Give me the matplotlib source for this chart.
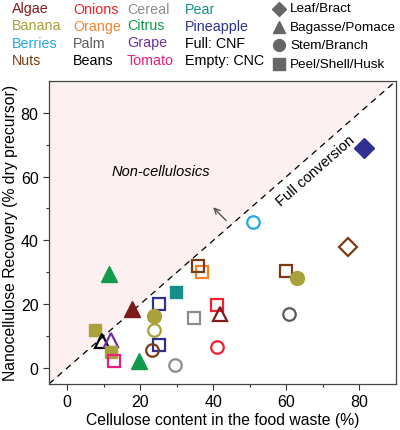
import matplotlib.pyplot as plt
import numpy as np

plt.rcParams['font.family'] = ['Liberation Sans', 'DejaVu Sans']

# food waste source, plant part, filled (CNF) or empty (CNC), cellulose %, recovery %
source = ['Pineapple', 'Berries', 'Nuts', 'Orange', 'Nuts', 'Nuts', 'Banana',
          'Citrus', 'Pear', 'Pineapple', 'Onions', 'Algae', 'Algae', 'Palm',
          'Banana', 'Cereal', 'Banana', 'Banana', 'Beans', 'Grape', 'Banana',
          'Pineapple', 'Nuts', 'Onions', 'Tomato', 'Citrus', 'Cereal']
part = ['Leaf', 'Stem', 'Leaf', 'Peel', 'Peel', 'Peel', 'Stem',
        'Bagasse', 'Peel', 'Peel', 'Peel', 'Bagasse', 'Bagasse', 'Stem',
        'Stem', 'Peel', 'Stem', 'Peel', 'Bagasse', 'Bagasse', 'Peel',
        'Peel', 'Stem', 'Stem', 'Peel', 'Bagasse', 'Stem']
filled = [True, False, False, False, False, False, True,
          True, True, False, False, True, False, False,
          True, False, False, True, False, False, True,
          False, False, False, False, True, False]
cellulose = [81.2, 50.9, 76.8, 36.9, 35.9, 59.9, 62.8,
             11.4, 29.9, 25.0, 41.0, 17.8, 41.9, 60.8,
             23.8, 34.8, 23.8, 7.5, 9.6, 11.9, 12.1,
             25.0, 23.3, 41.0, 12.9, 19.7, 29.5]
recovery = [69.1, 45.8, 38.0, 30.0, 32.1, 30.4, 28.1,
            29.5, 23.9, 20.0, 19.8, 18.5, 16.8, 16.9,
            16.2, 15.6, 12.0, 12.0, 8.3, 8.9, 5.0,
            7.1, 5.5, 6.6, 2.1, 2.1, 0.8]

colors = {'Algae': '#7f1a1c', 'Banana': '#a9a13a', 'Berries': '#22a8e6',
          'Nuts': '#7a3c14', 'Onions': '#f2222c', 'Orange': '#f7822a',
          'Palm': '#5a5a5a', 'Beans': '#000000', 'Cereal': '#8c8c8c',
          'Citrus': '#109a4a', 'Grape': '#7030a0', 'Tomato': '#ec1c80',
          'Pear': '#168f8b', 'Pineapple': '#2e3192'}
markers = {'Leaf': 'D', 'Bagasse': '^', 'Stem': 'o', 'Peel': 's'}
sizes = {'Leaf': 10, 'Bagasse': 11, 'Stem': 10, 'Peel': 9}
key_sizes = {'Leaf': 7, 'Bagasse': 9, 'Stem': 8.5, 'Peel': 8}
part_labels = {'Leaf': 'Leaf/Bract', 'Bagasse': 'Bagasse/Pomace',
               'Stem': 'Stem/Branch', 'Peel': 'Peel/Shell/Husk'}

fig = plt.figure(figsize=(4, 4.31), dpi=100)
ax = fig.add_axes([0.1225, 0.107, 0.8675, 0.703])

lim = [-5, 90]
ax.fill_between(lim, lim, [90, 90], color='#fdf0f1', zorder=0, lw=0)
ax.plot(lim, lim, color='black', ls=(0, (5, 4)), lw=0.9, zorder=1)

for s, p, f, x, y in zip(source, part, filled, cellulose, recovery):
    c = colors[s]
    if f:
        ax.plot(x, y, marker=markers[p], ms=sizes[p], color=c, mec=c, ls='none', zorder=3)
    else:
        ax.plot(x, y, marker=markers[p], ms=sizes[p] - 1, mfc='none', mec=c, mew=1.6,
                ls='none', zorder=3)

ax.text(25.6, 61.7, 'Non-cellulosics', style='italic', fontsize=10.5, ha='center', va='center')
ax.text(68.0, 62.0, 'Full conversion', fontsize=10.5, ha='center', va='center', rotation=41.3)
ax.annotate('', xy=(39.4, 51.0), xytext=(44.0, 45.6),
            arrowprops=dict(arrowstyle='->', color='#555555', lw=1.0))

ax.set_xlim(lim)
ax.set_ylim(lim)
ax.set_xticks([0, 20, 40, 60, 80])
ax.set_yticks([0, 20, 40, 60, 80])
ax.set_xticks(np.arange(0, 90, 10), minor=True)
ax.set_yticks(np.arange(0, 90, 10), minor=True)
ax.tick_params(labelsize=11.5, length=4, width=0.8, color='#333333')
ax.tick_params(which='minor', length=2.5, width=0.8, color='#333333')
for sp in ax.spines.values():
    sp.set_color('#444444')
    sp.set_linewidth(0.9)
ax.set_xlabel('Cellulose content in the food waste (%)', fontsize=11.3, labelpad=2)
ax.set_ylabel('Nanocellulose Recovery (% dry precursor)', fontsize=11.3, labelpad=2)

# colour key written as text in four columns
legend_cols = [['Algae', 'Banana', 'Berries', 'Nuts'],
               ['Onions', 'Orange', 'Palm', 'Beans'],
               ['Cereal', 'Citrus', 'Grape', 'Tomato'],
               ['Pear', 'Pineapple', 'Full: CNF', 'Empty: CNC']]
col_x = [12, 73, 127, 185]
row_y = [9.5, 26.5, 43.5, 61]
for cx, names in zip(col_x, legend_cols):
    for ry, name in zip(row_y, names):
        fig.text(cx / 400, 1 - ry / 431, name, fontsize=10.3, color=colors.get(name, 'black'),
                 ha='left', va='center')

# shape key
shape_y = [9.5, 27.5, 46, 65]
for ry, p in zip(shape_y, ['Leaf', 'Bagasse', 'Stem', 'Peel']):
    fig.lines.append(plt.Line2D([279 / 400], [1 - ry / 431], marker=markers[p],
                                ms=key_sizes[p], color='#666666', ls='none',
                                transform=fig.transFigure))
    fig.text(290 / 400, 1 - ry / 431, part_labels[p], fontsize=9.7, ha='left', va='center')

fig.savefig('out.png', dpi=100)
